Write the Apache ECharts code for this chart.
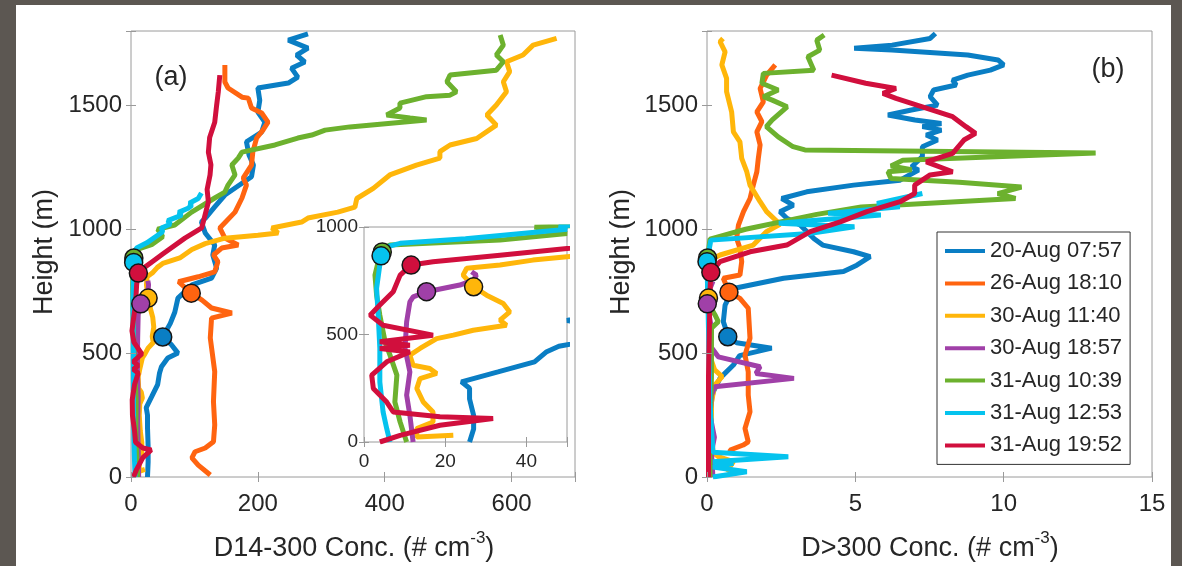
<!doctype html>
<html lang="en">
<head>
<meta charset="UTF-8">
<title>Vertical profiles</title>
<script src="https://cdn.jsdelivr.net/npm/echarts@6/dist/echarts.min.js"></script>
<style>
  html, body { margin: 0; padding: 0; background: #5c5752; }
  #paper { position: absolute; left: 16px; top: 5px; width: 1155px; height: 561px; background: #fff; }
  #main { position: absolute; left: 0; top: 0; width: 1182px; height: 566px; }
</style>
</head>
<body>
<div id="paper"></div>
<div id="main"></div>
<script type="text/javascript">
// flight names and colours
var names = ['20-Aug 07:57', '26-Aug 18:10', '30-Aug 11:40', '30-Aug 18:57', '31-Aug 10:39', '31-Aug 12:53', '31-Aug 19:52'];
var colors = ['#0a7ec4', '#ff6410', '#ffb60a', '#a040a8', '#6cb12e', '#05c3ee', '#d10f3d'];

// panel (a): D14-300 concentration [conc, height]
var a_20Aug0757 = [[26,0],[27,60],[27,124],[26,200],[26,250],[24,280],[33,326],[42,373],[45,420],[48,445],[58,480],[74,500],[64,533],[50,565],[62,620],[69,665],[74,722],[96,775],[127,803],[135,843],[129,896],[132,936],[117,985],[111,1029],[117,1044],[132,1090],[148,1138],[190,1212],[193,1259],[186,1300],[182,1353],[206,1392],[211,1432],[200,1473],[203,1520],[200,1570],[248,1590],[263,1614],[253,1650],[274,1675],[261,1703],[279,1731],[248,1763],[279,1788]];
var a_26Aug1810 = [[125,8],[106,48],[96,77],[101,102],[117,117],[130,142],[132,210],[130,304],[132,425],[125,561],[127,641],[159,662],[127,682],[112,714],[95,742],[75,788],[106,808],[132,828],[137,869],[130,896],[143,924],[169,936],[148,964],[140,1005],[164,1069],[175,1126],[182,1178],[177,1207],[190,1259],[192,1311],[198,1368],[208,1400],[216,1432],[206,1469],[190,1489],[185,1529],[175,1533],[153,1570],[148,1594],[148,1663]];
var a_30Aug1140 = [[22,31],[13,23],[13,62],[17,93],[17,140],[14.6,186],[13,249],[13.8,295],[17.9,319],[16.2,342],[12.1,357],[11.3,404],[13.8,435],[17.9,481],[22,497],[26.9,520],[35.1,543],[33.5,567],[35.9,605],[34.3,644],[30.2,683],[27,722],[24.4,776],[25.3,808],[33.5,823],[41.6,846],[50,862],[60,870],[77,884],[96,918],[117,942],[148,964],[200,976],[232,985],[222,1005],[269,1029],[279,1045],[326,1069],[353,1089],[356,1124],[382,1165],[408,1219],[450,1259],[487,1287],[487,1313],[503,1340],[545,1366],[576,1420],[561,1461],[576,1501],[592,1555],[587,1595],[597,1636],[592,1676],[618,1703],[634,1743],[671,1770]];
var a_30Aug1857 = [[12.1,0],[11.3,124],[10.5,218],[11.3,326],[10.1,435],[10.5,559],[11.3,652],[12.1,675],[15.4,699],[23.6,730],[26.9,753],[27.7,776],[26.5,792]];
var a_31Aug1039 = [[10.5,0],[8.9,93],[7.6,186],[8.1,311],[6.4,404],[5.2,466],[3.9,590],[3.1,683],[2.7,776],[3.9,869],[4.7,901],[6.4,916],[17,925],[33.5,939],[50,970],[42,1000],[69,1017],[95.6,1069],[132,1126],[148,1150],[153,1178],[164,1219],[159,1259],[169,1287],[175,1311],[227,1340],[263,1368],[285,1380],[306,1400],[345,1413],[466,1441],[440,1449],[403,1461],[424,1489],[424,1509],[466,1535],[503,1541],[513,1555],[498,1595],[503,1622],[576,1642],[587,1676],[576,1703],[587,1743],[582,1784]];
var a_31Aug1253 = [[6.4,0],[5.6,62],[4.7,140],[3.9,279],[3.9,435],[3.5,590],[3.1,714],[4.2,866],[5.6,908],[8.9,924],[25,945],[50,990],[48,1005],[62,1020],[58,1035],[80,1057],[75,1068],[90,1085],[96,1097],[92,1105],[106,1124],[111,1146]];
var a_31Aug1952 = [[3.9,0],[8.9,31],[18.7,78],[31.8,109],[18.7,117],[7.2,140],[5.6,186],[2.3,249],[1.9,311],[5.6,373],[11.3,419],[3.9,435],[11.3,450],[3.9,466],[17,497],[4.7,543],[1.5,590],[3.9,637],[7.2,699],[8.9,776],[11.6,823],[17,838],[33.5,869],[50,900],[85,964],[111.5,1005],[116,1050],[122,1110],[120,1160],[124.6,1219],[126,1260],[122,1311],[124,1370],[132,1432],[135,1500],[137.6,1554],[140,1622]];

// panel (b): D>300 concentration [conc, height]
var b_20Aug0757 = [[0.1,0],[0.15,100],[0.1,200],[0.16,318],[0.21,344],[0.44,399],[0.89,452],[1.1,490],[2.18,520],[1.0,542],[0.72,566],[0.55,627],[0.61,694],[0.89,761],[2.58,802],[4.6,829],[5.05,855],[5.5,889],[4.94,909],[3.9,936],[3.6,963],[3.14,1017],[2.69,1044],[2.46,1071],[2.91,1097],[2.52,1124],[3.36,1151],[4.94,1178],[6.51,1198],[7.13,1239],[6.9,1252],[7.26,1293],[7.26,1333],[7.77,1360],[7.39,1380],[7.9,1400],[7.26,1414],[7.9,1427],[7.01,1441],[6.1,1461],[6.89,1481],[7.77,1501],[7.52,1535],[7.64,1562],[8.4,1582],[8.28,1602],[8.79,1622],[9.55,1642],[10.0,1663],[9.81,1683],[8.79,1703],[6.24,1723],[4.96,1730],[6.24,1743],[7.52,1770],[7.7,1790]];
var b_26Aug1810 = [[0.78,95],[0.78,109],[1.22,129],[1.39,142],[1.28,196],[1.45,263],[1.39,331],[1.39,425],[1.28,492],[1.45,560],[1.39,681],[1.11,721],[0.74,746],[0.55,802],[1.11,815],[1.17,869],[1.11,923],[1.0,963],[1.06,1017],[1.23,1071],[1.45,1124],[1.56,1178],[1.68,1232],[1.73,1286],[1.79,1340],[1.68,1393],[1.85,1434],[1.68,1474],[1.9,1514],[1.79,1568],[2.01,1622],[2.3,1663]];
var b_30Aug1140 = [[0.66,21],[0.89,62],[0.38,82],[0.2,100],[0.15,200],[0.15,300],[0.26,371],[0.51,405],[0.26,432],[0.15,470],[0.1,600],[0.05,722],[0.1,800],[0.21,882],[0.44,896],[1.56,936],[2.0,990],[2.46,1020],[2.01,1071],[1.79,1111],[1.45,1178],[1.34,1232],[1.17,1286],[1.11,1353],[0.89,1393],[0.83,1474],[0.66,1555],[0.66,1609],[0.5,1663],[0.61,1716],[0.44,1757],[0.54,1770]];
var b_30Aug1857 = [[0.2,0],[0.15,100],[0.25,160],[0.1,250],[0.15,330],[0.26,364],[2.93,398],[1.65,418],[1.79,445],[0.38,485],[0.13,526],[0.15,600],[0.01,699],[0.1,760],[0.2,790]];
var b_31Aug1039 = [[0.1,0],[0.1,200],[0.15,400],[0.15,600],[0.38,627],[0.27,654],[0.05,700],[0.02,800],[0.02,884],[0.1,960],[1.3,1000],[3.7,1060],[5.2,1090],[10.4,1124],[9.8,1144],[10.6,1170],[8.5,1190],[6.2,1205],[6.1,1232],[6.9,1240],[6.2,1255],[6.6,1278],[13.1,1308],[3.3,1320],[2.9,1333],[2.4,1373],[2.0,1414],[2.2,1441],[2.7,1494],[2.2,1521],[1.9,1535],[2.4,1562],[1.85,1589],[1.9,1629],[3.6,1642],[3.4,1696],[3.8,1723],[3.7,1763],[3.95,1784]];
var b_31Aug1253 = [[0.2,0],[1.34,21],[0.2,40],[0.89,55],[0.2,62],[2.74,82],[0.2,100],[0.1,300],[0.05,600],[0.0,869],[0.13,956],[3.44,983],[4.97,1010],[2.42,1024],[5.86,1057],[4.08,1064],[6.5,1091],[5.73,1104],[7.26,1144]];
var b_31Aug1952 = [[0.05,0],[0.05,200],[0.05,400],[0.08,600],[0.1,750],[0.13,826],[0.44,869],[1.45,909],[2.69,936],[3.48,990],[4.49,1030],[5.39,1071],[6.51,1111],[7.0,1144],[7.0,1178],[7.52,1219],[8.28,1232],[7.39,1272],[8.28,1306],[8.66,1360],[9.05,1387],[8.73,1414],[8.28,1454],[7.26,1494],[6.37,1528],[5.93,1548],[6.37,1568],[5.35,1589],[4.2,1622]];

// cloud-base markers [conc, height]
var markA = [[50,565],[95,742],[27,722],[15.4,699],[4.5,884],[4.2,866],[11.6,823]];
var markB = [[0.70,566],[0.74,746],[0.05,722],[0.01,699],[0.02,884],[0.0,869],[0.13,826]];

var dataA = [a_20Aug0757, a_26Aug1810, a_30Aug1140, a_30Aug1857, a_31Aug1039, a_31Aug1253, a_31Aug1952];
var dataB = [b_20Aug0757, b_26Aug1810, b_30Aug1140, b_30Aug1857, b_31Aug1039, b_31Aug1253, b_31Aug1952];

var FONT = '"Liberation Sans", Arial, sans-serif';
var TXT = '#262626';
var boxColor = '#9a9a9a';

function valAxis(grid, min, max, step, pos, fs, labels) {
    var horiz = (pos === 'bottom' || pos === 'top');
    return {
        type: 'value', gridIndex: grid, min: min, max: max, interval: step, position: pos,
        axisLine: { show: false },
        axisTick: { show: true, inside: true, length: 5, lineStyle: { color: boxColor } },
        splitLine: { show: false },
        axisLabel: {
            show: labels, fontSize: fs, color: TXT, fontFamily: FONT,
            margin: horiz ? (fs > 20 ? 15 : 10) : (fs > 20 ? 9 : 6),
            formatter: function (v) { return (v % step === 0) ? String(v) : ''; }
        },
        z: grid === 2 ? 11 : 3
    };
}

var myChart = echarts.init(document.getElementById('main'));

var series = [];
function addLines(list, axisIdx, z) {
    for (var i = 0; i < list.length; i++) {
        series.push({
            name: names[i], type: 'line', xAxisIndex: axisIdx, yAxisIndex: axisIdx,
            data: list[i], symbol: 'none', showSymbol: false, clip: true,
            lineStyle: { width: 5, color: colors[i] },
            itemStyle: { color: colors[i] },
            z: z, silent: true
        });
    }
}
function addMarks(list, axisIdx, z, maxX) {
    var pts = [];
    for (var i = 0; i < list.length; i++) {
        if (maxX && list[i][0] >= maxX) continue;
        pts.push({ value: list[i], itemStyle: { color: colors[i] } });
    }
    series.push({
        type: 'scatter', xAxisIndex: axisIdx, yAxisIndex: axisIdx, data: pts,
        symbolSize: 18, itemStyle: { borderColor: '#151515', borderWidth: 1.5, opacity: 1 },
        z: z, silent: true, clip: true
    });
}
addLines(dataA, 0, 2);
addMarks(markA, 0, 4);
addLines(dataB, 2, 2);
addMarks(markB, 2, 4);
addLines(dataA, 4, 12);
addMarks(markA, 4, 13, 49);

var option = {
    animation: false,
    grid: [
        { left: 131, top: 31, width: 444, height: 446, show: true, borderColor: boxColor, borderWidth: 1, backgroundColor: 'transparent', outerBoundsMode: 'none' },
        { left: 707, top: 31, width: 445, height: 446, show: true, borderColor: boxColor, borderWidth: 1, backgroundColor: 'transparent', outerBoundsMode: 'none' },
        { left: 364, top: 227, width: 203, height: 215, show: true, borderColor: boxColor, borderWidth: 1, backgroundColor: '#fff', z: 10, outerBoundsMode: 'none' }
    ],
    xAxis: [
        valAxis(0, 0, 700, 200, 'bottom', 24, true),
        valAxis(0, 0, 700, 200, 'top', 24, false),
        valAxis(1, 0, 15, 5, 'bottom', 24, true),
        valAxis(1, 0, 15, 5, 'top', 24, false),
        valAxis(2, 0, 50, 20, 'bottom', 19, true),
        valAxis(2, 0, 50, 20, 'top', 19, false)
    ],
    yAxis: [
        valAxis(0, 0, 1800, 500, 'left', 24, true),
        valAxis(0, 0, 1800, 500, 'right', 24, false),
        valAxis(1, 0, 1800, 500, 'left', 24, true),
        valAxis(1, 0, 1800, 500, 'right', 24, false),
        valAxis(2, 0, 1000, 500, 'left', 19, true),
        valAxis(2, 0, 1000, 500, 'right', 19, false)
    ],
    legend: {
        data: names, orient: 'vertical', left: 937, top: 232,
        padding: [7, 8, 7, 8], itemGap: 8.4, itemWidth: 40, itemHeight: 4, icon: 'rect',
        borderColor: '#333', borderWidth: 1, backgroundColor: '#fff',
        textStyle: { fontSize: 22, lineHeight: 24, color: TXT, fontFamily: FONT },
        selectedMode: false, z: 20
    },
    graphic: [
        { type: 'text', x: 171, y: 78, style: { text: '(a)', font: '27px ' + FONT, fill: TXT, align: 'center', verticalAlign: 'middle' } },
        { type: 'text', x: 1108, y: 70, style: { text: '(b)', font: '27px ' + FONT, fill: TXT, align: 'center', verticalAlign: 'middle' } },
        { type: 'text', x: 45, y: 252, rotation: Math.PI / 2, style: { text: 'Height (m)', font: '27px ' + FONT, fill: TXT, align: 'center', verticalAlign: 'middle' } },
        { type: 'text', x: 622, y: 252, rotation: Math.PI / 2, style: { text: 'Height (m)', font: '27px ' + FONT, fill: TXT, align: 'center', verticalAlign: 'middle' } },
        { type: 'text', x: 354, y: 546, style: {
            text: '{n|D14-300 Conc. (# cm}{s|-3}{n|)}', align: 'center', verticalAlign: 'middle',
            rich: { n: { fontSize: 27, fontFamily: FONT, fill: TXT, lineHeight: 32, verticalAlign: 'bottom' },
                    s: { fontSize: 17, fontFamily: FONT, fill: TXT, lineHeight: 17, verticalAlign: 'top' } } } },
        { type: 'text', x: 930, y: 546, style: {
            text: '{n|D>300 Conc. (# cm}{s|-3}{n|)}', align: 'center', verticalAlign: 'middle',
            rich: { n: { fontSize: 27, fontFamily: FONT, fill: TXT, lineHeight: 32, verticalAlign: 'bottom' },
                    s: { fontSize: 17, fontFamily: FONT, fill: TXT, lineHeight: 17, verticalAlign: 'top' } } } }
    ],
    series: series
};

myChart.setOption(option);
</script>
</body>
</html>
